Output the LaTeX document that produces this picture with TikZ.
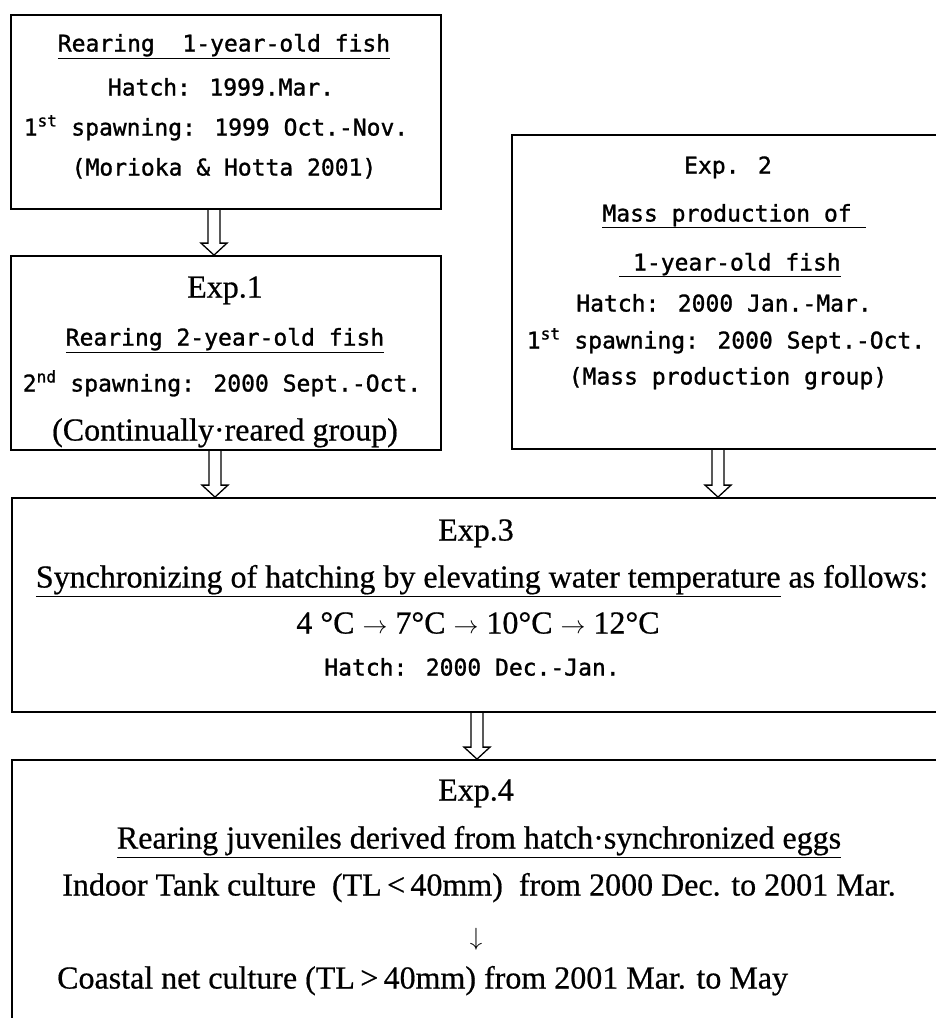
\documentclass[tikz,border=0pt]{standalone}
\usepackage{fontspec}
\usepackage{tikz}
\usetikzlibrary{calc,positioning}
\newfontfamily\gothfont[FakeBold=1.2]{DejaVu Sans Mono}
\newfontfamily\centfont[FakeBold=0.6]{Liberation Serif}

\begin{document}
\begin{tikzpicture}[x=1pt,y=-1pt]
\tikzstyle{box}=[rectangle, draw=black, line width=1.8pt, inner sep=0pt]
\tikzstyle{goth}=[inner sep=0pt, text height=17pt, text depth=0pt, font=\gothfont\fontsize{23}{26}\selectfont]
\tikzstyle{cent}=[inner sep=0pt, text height=21pt, text depth=0pt, font=\centfont\fontsize{32}{35}\selectfont]
\tikzset{hollow/.style={line width=1.3pt, to path={let \p1=(\tikztostart), \p2=(\tikztotarget) in
  (\x1+#1-6pt,\y1) -- (\x1+#1-6pt,\y2+12pt) -- (\x1+#1-13pt,\y2+12pt) -- (\x1+#1,\y2)
  -- (\x1+#1+13pt,\y2+12pt) -- (\x1+#1+6pt,\y2+12pt) -- (\x1+#1+6pt,\y1)}},
  hollow/.default=0pt}

\useasboundingbox (0,0) rectangle (936,1018);
\clip (0,0) rectangle (936,1018);
\fill[white] (0,0) rectangle (936,1018);

	% boxes
	\node[box, minimum width=430pt, minimum height=194pt] (rear1) at (226,112) {};
	\node[box, minimum width=430pt, minimum height=194pt] (exp1) at (226,353) {};
	\node[box, minimum width=432pt, minimum height=314pt] (exp2) at (728,292) {};
	\node[box, minimum width=930pt, minimum height=214pt] (exp3) at (477,605) {};
	\node[box, minimum width=930pt, minimum height=280pt] (exp4) at (477,900) {};

	% rearing 1-year-old fish
	\node[goth] (r1a) at (224,43) {\underline{Rearing~ 1-year-old fish}};
	\node[goth] (r1b) at (221,87) {Hatch: 1999.Mar.};
	\node[goth] (r1c) at (216,127) {1\textsuperscript{st} spawning: 1999 Oct.-Nov.};
	\node[goth] (r1d) at (224,167) {(Morioka \& Hotta 2001)};

	% Exp.1
	\node[cent] (e1a) at (225,287) {Exp.1};
	\node[goth] (e1b) at (225,337) {\underline{Rearing 2-year-old fish}};
	\node[goth] (e1c) at (222,383) {2\textsuperscript{nd} spawning: 2000 Sept.-Oct.};
	\node[cent] (e1d) at (225,430) {(Continually\textperiodcentered reared group)};

	% Exp.2
	\node[goth] (e2a) at (728,165) {Exp. 2};
	\node[goth] (e2b) at (734,213) {\underline{Mass production of~}};
	\node[goth] (e2c) at (730,262) {\underline{~1-year-old fish}};
	\node[goth] (e2d) at (724,303) {Hatch: 2000 Jan.-Mar.};
	\node[goth] (e2e) at (726,340) {1\textsuperscript{st} spawning: 2000 Sept.-Oct.};
	\node[goth] (e2f) at (728,376) {(Mass production group)};

	% Exp.3
	\node[cent] (e3a) at (476,530) {Exp.3};
	\node[cent] (e3b) at (482,577) {\underline{Synchronizing of hatching by elevating water temperature} as follows:};
	\node[cent] (e3c) at (478,623) {4 °C $\rightarrow$ 7°C $\rightarrow$ 10°C $\rightarrow$ 12°C};
	\node[goth] (e3d) at (472,667) {Hatch: 2000 Dec.-Jan.};

	% Exp.4
	\node[cent] (e4a) at (476,790) {Exp.4};
	\node[cent] (e4b) at (479,838) {\underline{Rearing juveniles derived from hatch\textperiodcentered synchronized eggs}};
	\node[cent] (e4c) at (479,885) {Indoor Tank culture~ (TL\,<\,40mm)~ from 2000 Dec. to 2001 Mar.};
	\node[cent] (e4d) at (476,935) {$\downarrow$};
	\node[cent, anchor=west] (e4e) at (57,978) {Coastal net culture (TL\,>\,40mm) from 2001 Mar. to May};

	% hollow arrows
	\draw[hollow=-12pt] (rear1.south) to (exp1.north);
	\draw[hollow=-11pt] (exp1.south) to (exp1.south |- exp3.north);
	\draw[hollow=-10pt] (exp2.south) to (exp2.south |- exp3.north);
	\draw[hollow] (exp3.south) to (exp4.north);

\end{tikzpicture}
\end{document}
